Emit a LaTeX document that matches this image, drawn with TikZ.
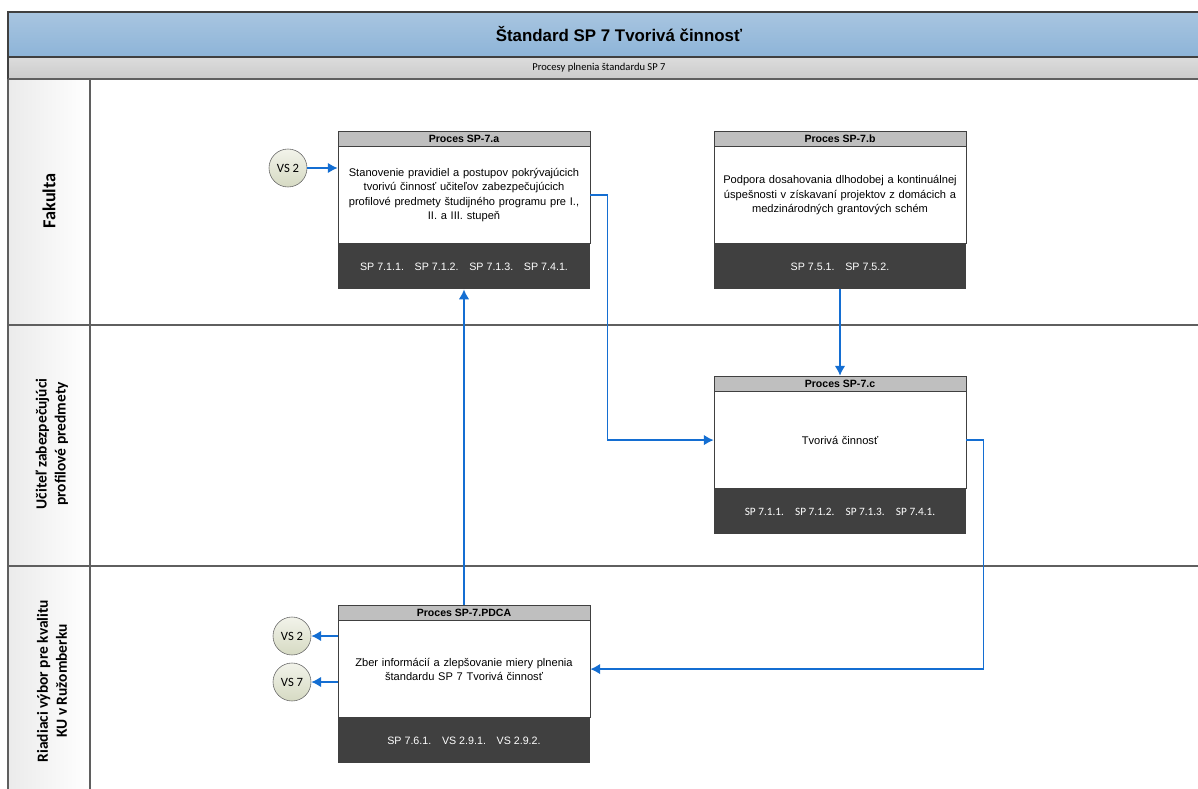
\documentclass[tikz,border=0pt]{standalone}
\usepackage{fontspec}
\setmainfont{Liberation Sans}
\newfontfamily\carlito{Carlito}
\usetikzlibrary{positioning}
\usetikzlibrary{arrows.meta}
\definecolor{bandtop}{RGB}{168,197,224}
\definecolor{bandbot}{RGB}{141,180,216}
\definecolor{subtop}{RGB}{220,220,220}
\definecolor{subbot}{RGB}{203,203,203}
\definecolor{edge}{RGB}{64,64,64}
\definecolor{laneline}{RGB}{95,95,95}
\definecolor{headgray}{RGB}{191,191,191}
\definecolor{footgray}{RGB}{64,64,64}
\definecolor{flowblue}{RGB}{20,110,210}
\definecolor{vstop}{RGB}{242,243,234}
\definecolor{vsbot}{RGB}{214,218,195}

\begin{document}
\begin{tikzpicture}[x=0.025cm, y=-0.025cm,
  phead/.style={draw=edge, fill=headgray, minimum width=6.3cm, minimum height=0.375cm, inner sep=0pt, font=\bfseries\fontsize{7.5}{9}\selectfont},
  pbody/.style={draw=edge, fill=white, minimum width=6.3cm, minimum height=2.425cm, text width=6.1cm, align=center, inner sep=0pt, font=\fontsize{7.9}{10.1}\selectfont},
  pfoot/.style={fill=footgray, text=white, minimum width=6.3cm, minimum height=1.125cm, inner sep=0pt, font=\fontsize{7.6}{9}\selectfont},
  vs/.style={circle, draw=gray!80!black, top color=vstop, bottom color=vsbot, minimum size=0.95cm, inner sep=0pt, font=\carlito\fontsize{9}{10}\selectfont},
  lane/.style={rotate=90, align=center, font=\carlito\bfseries\fontsize{11}{13.5}\selectfont},
  flow/.style={draw=flowblue, line width=1.1pt, -{Latex[length=7pt, width=7.5pt]}}]

	\useasboundingbox (0,0) rectangle (1198,789);

	\shade[top color=bandtop, bottom color=bandbot] (8,12) rectangle (1198,57);
	\shade[top color=subtop, bottom color=subbot] (8,57) rectangle (1198,79);
	\shade[left color=gray!16, right color=white] (8,79) rectangle (90,789);
	\draw[edge, line width=1pt] (1198,12) -- (8,12) -- (8,79);
	\draw[edge, line width=0.8pt] (8,57) -- (1198,57);
	\draw[laneline, line width=1.2pt] (8,79) -- (1198,79);
	\draw[laneline, line width=0.8pt] (8,79) -- (8,789) (90,79) -- (90,789);
	\draw[laneline, line width=0.8pt] (8,325) -- (1198,325) (8,566) -- (1198,566);

	\node[font=\bfseries\fontsize{12}{14}\selectfont] (title) at (619,34) {Štandard SP 7 Tvorivá činnosť};
	\node[font=\carlito\fontsize{7.5}{9}\selectfont] (subtitle) at (599,68) {Procesy plnenia štandardu SP 7};

	\node[lane, font=\carlito\bfseries\fontsize{13}{15}\selectfont] (fak) at (49,201) {Fakulta};
	\node[lane] (uci) at (52,444) {Učiteľ zabezpečujúci\\profilové predmety};
	\node[lane] (rvk) at (52,681) {Riadiaci výbor pre kvalitu\\KU v Ružomberku};

	\node[phead] (pa-h) at (464,138.5) {Proces SP-7.a};
	\node[pbody, below=0pt of pa-h] (pa) {Stanovenie pravidiel a postupov pokrývajúcich\\tvorivú činnosť učiteľov zabezpečujúcich\\profilové predmety študijného programu pre I.,\\II. a III. stupeň};
	\node[pfoot, below=0pt of pa] (pa-f) {SP 7.1.1.\quad SP 7.1.2.\quad SP 7.1.3.\quad SP 7.4.1.};

	\node[phead] (pb-h) at (840,138.5) {Proces SP-7.b};
	\node[pbody, below=0pt of pb-h] (pb) {Podpora dosahovania dlhodobej a kontinuálnej\\úspešnosti v získavaní projektov z domácich a\\medzinárodných grantových schém};
	\node[pfoot, below=0pt of pb] (pb-f) {SP 7.5.1.\quad SP 7.5.2.};

	\node[phead] (pc-h) at (840,383.5) {Proces SP-7.c};
	\node[pbody, below=0pt of pc-h] (pc) {Tvorivá činnosť};
	\node[pfoot, below=0pt of pc, font=\carlito\fontsize{8}{9}\selectfont] (pc-f) {SP 7.1.1.\quad SP 7.1.2.\quad SP 7.1.3.\quad SP 7.4.1.};

	\node[phead] (pd-h) at (464,612.5) {Proces SP-7.PDCA};
	\node[pbody, below=0pt of pd-h] (pd) {Zber informácií a zlepšovanie miery plnenia\\štandardu SP 7 Tvorivá činnosť};
	\node[pfoot, below=0pt of pd] (pd-f) {SP 7.6.1.\quad VS 2.9.1.\quad VS 2.9.2.};

	\node[vs] (vs-a) at (288,168) {VS 2};
	\node[vs] (vs-b) at (292,636) {VS 2};
	\node[vs] (vs-c) at (292,682) {VS 7};

	\draw[flow] (vs-a.east) -- (vs-a.east -| pa.west);
	\draw[flow] (pa.east) -- ++(17,0) |- (pc.west);
	\draw[flow] (pb-f.south) -- (pc-h.north);
	\draw[flow] (pc.east) -- ++(17,0) |- (pd.east);
	\draw[flow] (pd-h.north) -- (pa-f.south);
	\draw[flow] (vs-b.east -| pd.west) -- (vs-b.east);
	\draw[flow] (vs-c.east -| pd.west) -- (vs-c.east);
\end{tikzpicture}
\end{document}
